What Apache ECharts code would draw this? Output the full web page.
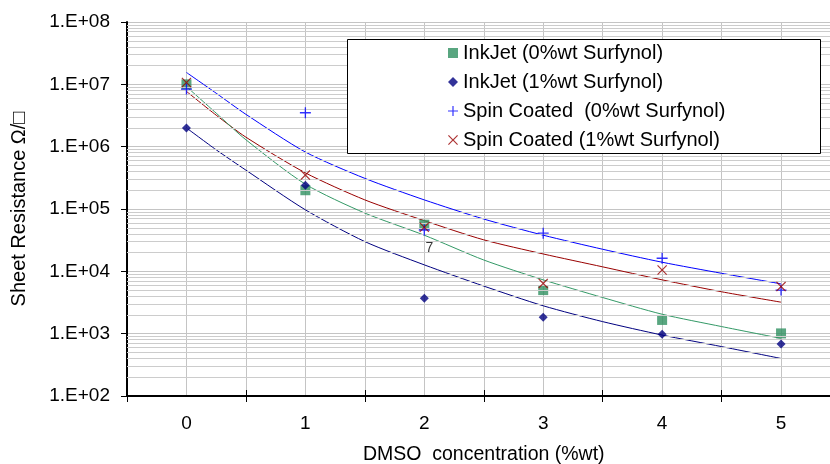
<!DOCTYPE html>
<html>
<head>
<meta charset="utf-8">
<script src="https://cdn.jsdelivr.net/npm/echarts@6/dist/echarts.min.js"></script>
<style>
  html, body { margin: 0; padding: 0; background: #fff; }
  #main { width: 830px; height: 464px; }
</style>
</head>
<body>
<div id="main"></div>
<script>
// 测量点
var xPoints = [0, 1, 2, 3, 4, 5];
var inkJet0 = [1.0e7, 2.0e5, 5.6e4, 5.0e3, 1.66e3, 1.01e3];
var inkJet1 = [2.0e6, 2.4e5, 3.7e3, 1.83e3, 9.8e2, 6.8e2];
var spin0 = [8.4e6, 3.5e6, 4.6e4, 4.1e4, 1.62e4, 5.0e3];
var spin1 = [1.07e7, 3.5e5, 5.1e4, 6.4e3, 1.05e4, 5.7e3];

// 趋势线
var trendX = [0, 0.25, 0.5, 1, 1.5, 2, 2.5, 3, 3.5, 4, 4.5, 5];
var trendInk0 = [9.2e6, 3.45e6, 1.29e6, 2.5e5, 8.6e4, 3.8e4, 1.52e4, 7.3e3, 3.8e3, 2.05e3, 1.3e3, 8.4e2];
var trendInk1 = [2.0e6, 8.9e5, 4.2e5, 9.7e4, 3.0e4, 1.27e4, 5.8e3, 2.8e3, 1.56e3, 9.5e2, 6.2e2, 4.0e2];
var trendSpin0 = [1.55e7, 7.2e6, 3.3e6, 8.2e5, 3.1e5, 1.4e5, 6.9e4, 3.8e4, 2.26e4, 1.4e4, 9.3e3, 6.3e3];
var trendSpin1 = [7.7e6, 3.2e6, 1.42e6, 3.8e5, 1.4e5, 6.5e4, 3.2e4, 1.9e4, 1.18e4, 7.3e3, 4.7e3, 3.2e3];

var seriesNames = ['InkJet (0%wt Surfynol)', 'InkJet (1%wt Surfynol)', 'Spin Coated  (0%wt Surfynol)', 'Spin Coated (1%wt Surfynol)'];

// stray label on the plot
var noteLabel = '7';
var notePoint = [2, 2.4e4];

// 次级网格 2..9 each decade
var decades = [100, 1000, 10000, 100000, 1000000, 10000000];
var minorSteps = [2, 3, 4, 5, 6, 7, 8, 9];

var FONT = 'Liberation Sans';

function pairs(xs, ys) {
    var out = [];
    for (var i = 0; i < xs.length; i++) out.push([xs[i], ys[i]]);
    return out;
}

var minorLines = [];
for (var d = 0; d < decades.length; d++) {
    for (var m = 0; m < minorSteps.length; m++) {
        minorLines.push({ yAxis: decades[d] * minorSteps[m] });
    }
}

var plusPath = 'path://M4.4,0h1.2v4.4h4.4v1.2h-4.4v4.4h-1.2v-4.4h-4.4v-1.2h4.4z';
var crossPath = 'path://M0.85,0L5,4.15L9.15,0L10,0.85L5.85,5L10,9.15L9.15,10L5,5.85L0.85,10L0,9.15L4.15,5L0,0.85Z';

var chart = echarts.init(document.getElementById('main'));

function trend(name, data, color) {
    return {
        name: name,
        type: 'line',
        data: pairs(trendX, data),
        smooth: 0.25,
        showSymbol: false,
        silent: true,
        lineStyle: { color: color, width: 1 },
        z: 3
    };
}

var option = {
    animation: false,
    backgroundColor: '#fff',
    textStyle: { fontFamily: FONT },
    grid: { left: 127, top: 22, right: -10.5, bottom: 68, outerBoundsMode: 'none', containLabel: false },
    legend: {
        data: seriesNames,
        orient: 'vertical',
        left: 448,
        top: 43,
        padding: 0,
        itemWidth: 10,
        itemHeight: 10,
        itemGap: 9,
        z: 10,
        textStyle: { fontFamily: FONT, fontSize: 20, color: '#000', lineHeight: 20 }
    },
    graphic: [{
        type: 'rect',
        z: 9,
        shape: { x: 347.5, y: 39.5, width: 473, height: 114 },
        style: { fill: '#fff', stroke: '#000', lineWidth: 1 }
    }],
    xAxis: [{
        type: 'value',
        min: -0.5,
        max: 5.5,
        interval: 0.5,
        name: 'DMSO  concentration (%wt)',
        nameLocation: 'middle',
        nameGap: 49,
        nameTextStyle: { fontFamily: FONT, fontSize: 19.5, color: '#000' },
        axisLine: { show: true, onZero: false, lineStyle: { color: '#000', width: 2 } },
        axisTick: { show: false },
        axisLabel: {
            margin: 18,
            fontFamily: FONT, fontSize: 19, color: '#000',
            formatter: function (v) { return Math.abs(v - Math.round(v)) < 1e-9 ? String(Math.round(v)) : ''; }
        },
        splitLine: { show: true, lineStyle: { color: '#c4c4c4', width: 1 } }
    }, {
        type: 'value',
        min: -0.5,
        max: 5.5,
        interval: 1,
        position: 'bottom',
        axisLine: { show: false, onZero: false },
        axisTick: { show: true, length: 6, lineStyle: { color: '#000', width: 1 } },
        axisLabel: { show: false },
        splitLine: { show: false }
    }, {
        type: 'value',
        min: -0.5,
        max: 5.5,
        interval: 1,
        position: 'bottom',
        axisLine: { show: false, onZero: false },
        axisTick: { show: true, inside: true, length: 6, lineStyle: { color: '#000', width: 1 } },
        axisLabel: { show: false },
        splitLine: { show: false }
    }],
    yAxis: {
        type: 'log',
        logBase: 10,
        min: 100,
        max: 1e8,
        splitNumber: 6,
        name: 'Sheet Resistance Ω/□',
        nameLocation: 'middle',
        nameRotate: 90,
        nameGap: 98,
        nameTextStyle: { fontFamily: FONT, fontSize: 20, color: '#000' },
        axisLine: { show: true, onZero: false, lineStyle: { color: '#000', width: 2 } },
        axisTick: { show: true, length: 6, lineStyle: { color: '#000', width: 1 } },
        axisLabel: {
            margin: 17,
            fontFamily: FONT, fontSize: 19, color: '#000',
            formatter: function (v) {
                var e = Math.round(Math.log(v) / Math.LN10);
                return '1.E+' + (e < 10 ? '0' : '') + e;
            }
        },
        splitLine: { show: true, lineStyle: { color: '#c4c4c4', width: 1 } }
    },
    series: [
        {
            name: 'minorGrid',
            type: 'line',
            data: [],
            silent: true,
            z: 1,
            markLine: {
                silent: true,
                symbol: 'none',
                animation: false,
                label: { show: false },
                lineStyle: { color: '#cccccc', width: 1, type: 'solid' },
                emphasis: { disabled: true },
                data: minorLines
            }
        },
        trend('trendSpin0', trendSpin0, '#0000ff'),
        trend('trendSpin1', trendSpin1, '#990000'),
        trend('trendInk0', trendInk0, '#339966'),
        trend('trendInk1', trendInk1, '#000080'),
        {
            name: seriesNames[0],
            type: 'scatter',
            symbol: 'rect',
            symbolSize: 10,
            itemStyle: { color: '#2f9060' },
            data: pairs(xPoints, inkJet0),
            z: 4
        },
        {
            name: seriesNames[1],
            type: 'scatter',
            symbol: 'diamond',
            symbolSize: 9,
            itemStyle: { color: '#000080' },
            data: pairs(xPoints, inkJet1),
            z: 5
        },
        {
            name: seriesNames[2],
            type: 'scatter',
            symbol: plusPath,
            symbolSize: 11,
            itemStyle: { color: '#0000ff' },
            data: pairs(xPoints, spin0),
            z: 6
        },
        {
            name: seriesNames[3],
            type: 'scatter',
            symbol: crossPath,
            symbolSize: 10,
            itemStyle: { color: '#990000' },
            data: pairs(xPoints, spin1),
            z: 7
        },
        {
            name: 'note',
            type: 'scatter',
            symbolSize: 1,
            silent: true,
            itemStyle: { color: 'transparent' },
            label: {
                show: true,
                position: 'inside',
                offset: [5, 1],
                formatter: noteLabel,
                fontFamily: FONT,
                fontSize: 14,
                color: '#000'
            },
            data: [notePoint],
            z: 8
        }
    ]
};

chart.setOption(option);
</script>
</body>
</html>
